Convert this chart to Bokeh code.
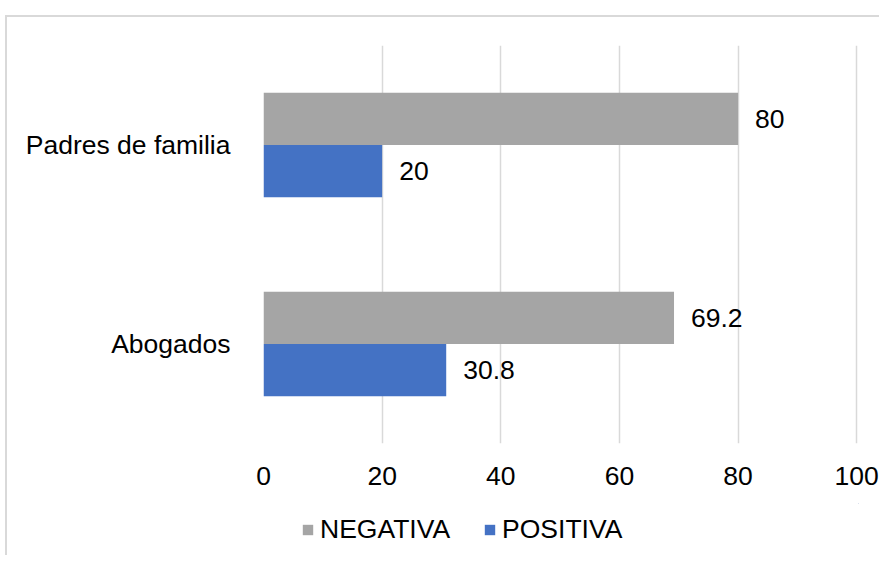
from bokeh.plotting import figure
from bokeh.models import ColumnDataSource, Legend, LegendItem, FactorRange, Range1d
from bokeh.layouts import column
from bokeh.transform import dodge
from bokeh.core.properties import value
from bokeh.embed import file_html
from bokeh.resources import INLINE

categories = ["Abogados", "Padres de familia"]
negativa = [69.2, 80]
positiva = [30.8, 20]
x_ticks = [0, 20, 40, 60, 80, 100]
series_names = ["NEGATIVA", "POSITIVA"]

GRAY = "#A5A5A5"
BLUE = "#4472C4"
FONT = "Liberation Sans"
FS = "26.5px"

src = ColumnDataSource(dict(
    cat=categories,
    neg=negativa,
    pos=positiva,
    neg_lbl=[f"{v:g}" for v in negativa],
    pos_lbl=[f"{v:g}" for v in positiva],
))

p = figure(
    width=872, height=486,
    y_range=FactorRange(factors=categories),
    x_range=(0, 100.3),
    output_backend="svg", toolbar_location=None,
    min_border_left=256, min_border_right=21, min_border_top=28, min_border_bottom=60,
)
p.outline_line_color = None
p.background_fill_color = "white"
p.border_fill_color = "white"

r_neg = p.hbar(y=dodge("cat", 0.131, range=p.y_range), right="neg", left=0, height=0.262,
               source=src, color=GRAY, line_color=None)
r_pos = p.hbar(y=dodge("cat", -0.131, range=p.y_range), right="pos", left=0, height=0.262,
               source=src, color=BLUE, line_color=None)

p.text(x="neg", y=dodge("cat", 0.131, range=p.y_range), text="neg_lbl", source=src,
       x_offset=17, text_baseline="middle", text_align="left",
       text_font=value(FONT), text_font_size=FS, text_color="#000000")
p.text(x="pos", y=dodge("cat", -0.131, range=p.y_range), text="pos_lbl", source=src,
       x_offset=17, text_baseline="middle", text_align="left",
       text_font=value(FONT), text_font_size=FS, text_color="#000000")

p.xaxis.ticker = x_ticks
p.xaxis.axis_line_color = None
p.xaxis.major_tick_line_color = None
p.xaxis.minor_tick_line_color = None
p.xaxis.major_label_text_font = FONT
p.xaxis.major_label_text_font_size = FS
p.xaxis.major_label_text_color = "#000000"
p.xaxis.major_label_standoff = 17

p.yaxis.axis_line_color = None
p.yaxis.major_tick_line_color = None
p.yaxis.minor_tick_line_color = None
p.yaxis.major_label_text_font = FONT
p.yaxis.major_label_text_font_size = FS
p.yaxis.major_label_text_color = "#000000"
p.yaxis.major_label_standoff = 27

p.xgrid.grid_line_color = "#d9d9d9"
p.xgrid.grid_line_width = 1.5
p.ygrid.grid_line_color = None

# legend strip below the chart (its frame is aligned with the chart's frame)
lf = figure(width=872, height=52, x_range=Range1d(0, 1), y_range=Range1d(0, 1),
            output_backend="svg", toolbar_location=None,
            min_border_left=0, min_border_right=0, min_border_top=0, min_border_bottom=0)
lf.axis.visible = False
lf.grid.visible = False
lf.outline_line_color = None
lf.background_fill_color = "white"
lf.border_fill_color = "white"
# legend-key renderers: same series, entirely outside this strip's view
g_neg = lf.hbar(y="neg", right="neg", left="neg", height=0.262, source=src, color=GRAY, line_color=None)
g_pos = lf.hbar(y="pos", right="pos", left="pos", height=0.262, source=src, color=BLUE, line_color=None)

legend = Legend(items=[LegendItem(label=series_names[0], renderers=[g_neg], index=0),
                       LegendItem(label=series_names[1], renderers=[g_pos], index=0)],
                orientation="horizontal", location=(38, 10),
                label_text_font=FONT, label_text_font_size=FS, label_text_color="#000000",
                glyph_width=13, glyph_height=13, label_standoff=6, spacing=33,
                padding=0, margin=0, border_line_color=None, background_fill_alpha=0)
lf.add_layout(legend, "center")

layout = column(p, lf, spacing=0)
layout.styles = {"margin-left": "5px", "margin-top": "15px",
                 "border-top": "2px solid #d9d9d9", "border-left": "2px solid #d9d9d9"}

open("out.html", "w").write(file_html(layout, INLINE))
